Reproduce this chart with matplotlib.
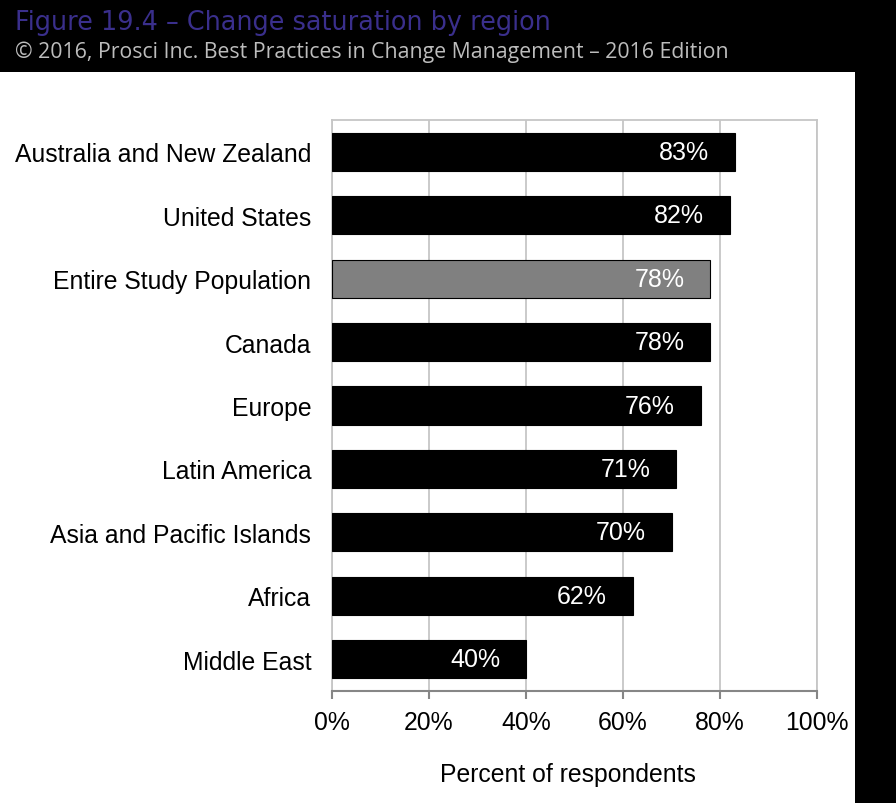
import numpy as np
import matplotlib.pyplot as plt
from matplotlib.patches import Rectangle

regions = [
    "Australia and New Zealand",
    "United States",
    "Entire Study Population",
    "Canada",
    "Europe",
    "Latin America",
    "Asia and Pacific Islands",
    "Africa",
    "Middle East",
]
values = [83, 82, 78, 78, 76, 71, 70, 62, 40]
highlight = "Entire Study Population"
xticks = [0, 20, 40, 60, 80, 100]

W, H = 896, 804
fig = plt.figure(figsize=(W / 100, H / 100), dpi=100)
fig.patch.set_facecolor("white")

# black header and right-hand strip
fig.add_artist(Rectangle((0, 1 - 73 / H), 1, 73 / H, transform=fig.transFigure,
                         facecolor="black", edgecolor="none", zorder=0))
fig.add_artist(Rectangle((855 / W, 0), 1 - 855 / W, 1, transform=fig.transFigure,
                         facecolor="black", edgecolor="none", zorder=0))

fig.text(15 / W, 1 - 23 / H, "Figure 19.4 \u2013 Change saturation by region",
         color="#3a2f8c", fontsize=18.4, family="DejaVu Sans", va="center")
fig.text(15 / W, 1 - 52 / H,
         "\u00a9 2016, Prosci Inc. Best Practices in Change Management \u2013 2016 Edition",
         color="#bdbdbd", fontsize=15.3, family="Open Sans", va="center")

ax = fig.add_axes([332 / W, 1 - 692 / H, (817 - 332) / W, (692 - 121) / H])
y = np.arange(len(regions))
colors = ["#808080" if r == highlight else "black" for r in regions]
ax.barh(y, values, height=0.6, color=colors, edgecolor="black", linewidth=0.8, zorder=3)

for yi, v in zip(y, values):
    ax.text(v - 5.3, yi, f"{v}%", color="white", fontsize=18,
            family="Liberation Sans", ha="right", va="center", zorder=4)

ax.set_xlim(0, 100)
ax.set_ylim(len(regions) - 0.5, -0.5)
ax.set_xticks(xticks)
ax.set_xticklabels([f"{t}%" for t in xticks], fontsize=17.8, family="Liberation Sans")
ax.set_yticks(y)
ax.set_yticklabels(regions, fontsize=17.8, family="Liberation Sans")
ax.tick_params(axis="y", length=0, pad=15)
ax.tick_params(axis="x", length=6, color="#868686", width=1.5, direction="out", pad=8)
ax.grid(axis="x", color="#c6c6c6", linewidth=1.3, zorder=0)
for side in ["top", "right", "left"]:
    ax.spines[side].set_color("#c6c6c6")
    ax.spines[side].set_linewidth(1.3)
ax.spines["bottom"].set_color("#868686")
ax.spines["bottom"].set_linewidth(1.5)
ax.set_xlabel("Percent of respondents", fontsize=17.8, family="Liberation Sans", labelpad=20)
ax.xaxis.label.set_position(((568 - 332) / (817 - 332), 0))

fig.savefig("out.png", dpi=100)
